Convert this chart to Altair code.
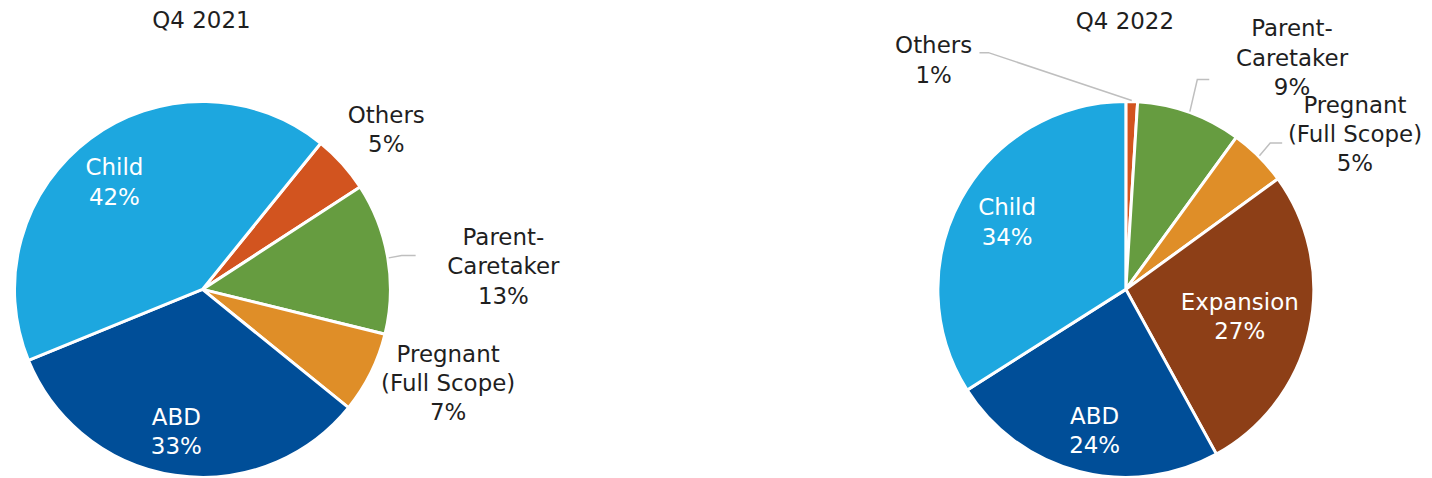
import altair as alt
import numpy as np
import pandas as pd

# ---------------- data ----------------
titles = ["Q4 2021", "Q4 2022"]
categories_2021 = ["Others", "Parent-Caretaker", "Pregnant (Full Scope)", "ABD", "Child"]
values_2021 = [5, 13, 7, 33, 42]
categories_2022 = ["Others", "Parent-Caretaker", "Pregnant (Full Scope)", "Expansion", "ABD", "Child"]
values_2022 = [1, 9, 5, 27, 24, 34]

color_domain = ["Child", "Others", "Parent-Caretaker", "Pregnant (Full Scope)", "ABD", "Expansion"]
color_range = ["#1DA7DF", "#D2541F", "#669C40", "#DF8E28", "#004E98", "#8D3F17"]
display_names = {"Parent-Caretaker": "Parent-\nCaretaker",
                 "Pregnant (Full Scope)": "Pregnant\n(Full Scope)"}

# ---------------- layout / style ----------------
FONT = "DejaVu Sans"
FS = 23
LH = 29.5
R = 188.5
H = 470
panels = [
    dict(width=700, cx=191, cy=281.5, start=39, title_y=12,
         labels={  # category: (radial distance, dx, dy, inside)
             "Child": (138, -6, 4, True),
             "ABD": (145, -5, 0, True),
             "Others": (244, 3, 4, False),
             "Parent-Caretaker": (300, 6, 28, False),
             "Pregnant (Full Scope)": (265, 9, -23, False)},
         leaders={"Parent-Caretaker": [(-102, -12), (-88, -12)]}),
    dict(width=716, cx=417, cy=281.5, start=0, title_y=13,
         labels={
             "Child": (137, 1, -0.5, True),
             "ABD": (146, 5, 1, True),
             "Expansion": (117, 0, 3, True),
             "Others": (230, -200, 1, False),
             "Parent-Caretaker": (247, 83, 1, False),
             "Pregnant (Full Scope)": (250, 53, 22, False)},
         leaders={"Others": [(55, -8.5), (46, -8.5)],
                  "Parent-Caretaker": [(-95, 21), (-83, 21)],
                  "Pregnant (Full Scope)": [(-85, 8), (-73, 8)]}),
]


def make_panel(title, cats, vals, p):
    df = pd.DataFrame({"category": cats, "value": vals, "idx": range(len(cats))})
    a0 = float(np.deg2rad(p["start"]))
    total = float(sum(vals))
    cum = np.cumsum([0] + list(vals))
    mids = a0 + 2 * np.pi * (cum[:-1] + np.array(vals) / 2) / total

    arcs = alt.Chart(df).mark_arc(radius=R, stroke="white", strokeWidth=3).encode(
        theta=alt.Theta("value:Q", stack=True,
                        scale=alt.Scale(range=[a0, a0 + 2 * float(np.pi)])),
        order=alt.Order("idx:Q"),
        color=alt.Color("category:N", scale=alt.Scale(domain=color_domain, range=color_range),
                        legend=None),
        x=alt.value(p["cx"]), y=alt.value(p["cy"]),
    )

    rows, lines = [], []
    for i, (c, v) in enumerate(zip(cats, vals)):
        r, dx, dy, inside = p["labels"][c]
        m = float(mids[i])
        lx = p["cx"] + r * np.sin(m) + dx
        ly = p["cy"] - r * np.cos(m) + dy
        text = f"{display_names.get(c, c)}\n{v}%"
        n = text.count("\n") + 1
        # Vega anchors the first line; shift so the block is centred
        rows.append(dict(x=float(lx), y=float(ly - (n - 1) * LH / 2), text=text,
                         inside=inside))
        if c in p["leaders"]:
            pts = [(p["cx"] + (R + 1) * np.sin(m), p["cy"] - (R + 1) * np.cos(m))]
            pts += [(lx + ox, ly + oy) for ox, oy in p["leaders"][c]]
            for k, (px, py) in enumerate(pts):
                lines.append(dict(x=float(px), y=float(py), k=k, line=c))
    lab = pd.DataFrame(rows)

    text_in = alt.Chart(lab[lab.inside]).mark_text(
        font=FONT, fontSize=FS, lineBreak="\n", lineHeight=LH, align="center",
        baseline="middle", color="white").encode(
        x=alt.X("x:Q", scale=None), y=alt.Y("y:Q", scale=None), text="text:N")
    text_out = alt.Chart(lab[~lab.inside]).mark_text(
        font=FONT, fontSize=FS, lineBreak="\n", lineHeight=LH, align="center",
        baseline="middle", color="#1F1F1F").encode(
        x=alt.X("x:Q", scale=None), y=alt.Y("y:Q", scale=None), text="text:N")

    layers = [arcs, text_in, text_out]
    if lines:
        lead = alt.Chart(pd.DataFrame(lines)).mark_line(color="#BFBFBF", strokeWidth=1.5).encode(
            x=alt.X("x:Q", scale=None), y=alt.Y("y:Q", scale=None),
            detail="line:N", order="k:Q")
        layers.insert(1, lead)

    ttl = alt.Chart(pd.DataFrame({"t": [title]})).mark_text(
        font=FONT, fontSize=FS, align="center", baseline="middle", color="#1F1F1F").encode(
        x=alt.value(p["cx"] - 1), y=alt.value(p["title_y"]), text="t:N")
    layers.append(ttl)

    return alt.layer(*layers).properties(width=p["width"], height=H)


left = make_panel(titles[0], categories_2021, values_2021, panels[0])
right = make_panel(titles[1], categories_2022, values_2022, panels[1])

chart = alt.hconcat(left, right, spacing=0, bounds="flush").properties(
    padding=0
).configure_view(stroke=None)

chart.save("out.html", embed_options={"renderer": "svg", "actions": False})
